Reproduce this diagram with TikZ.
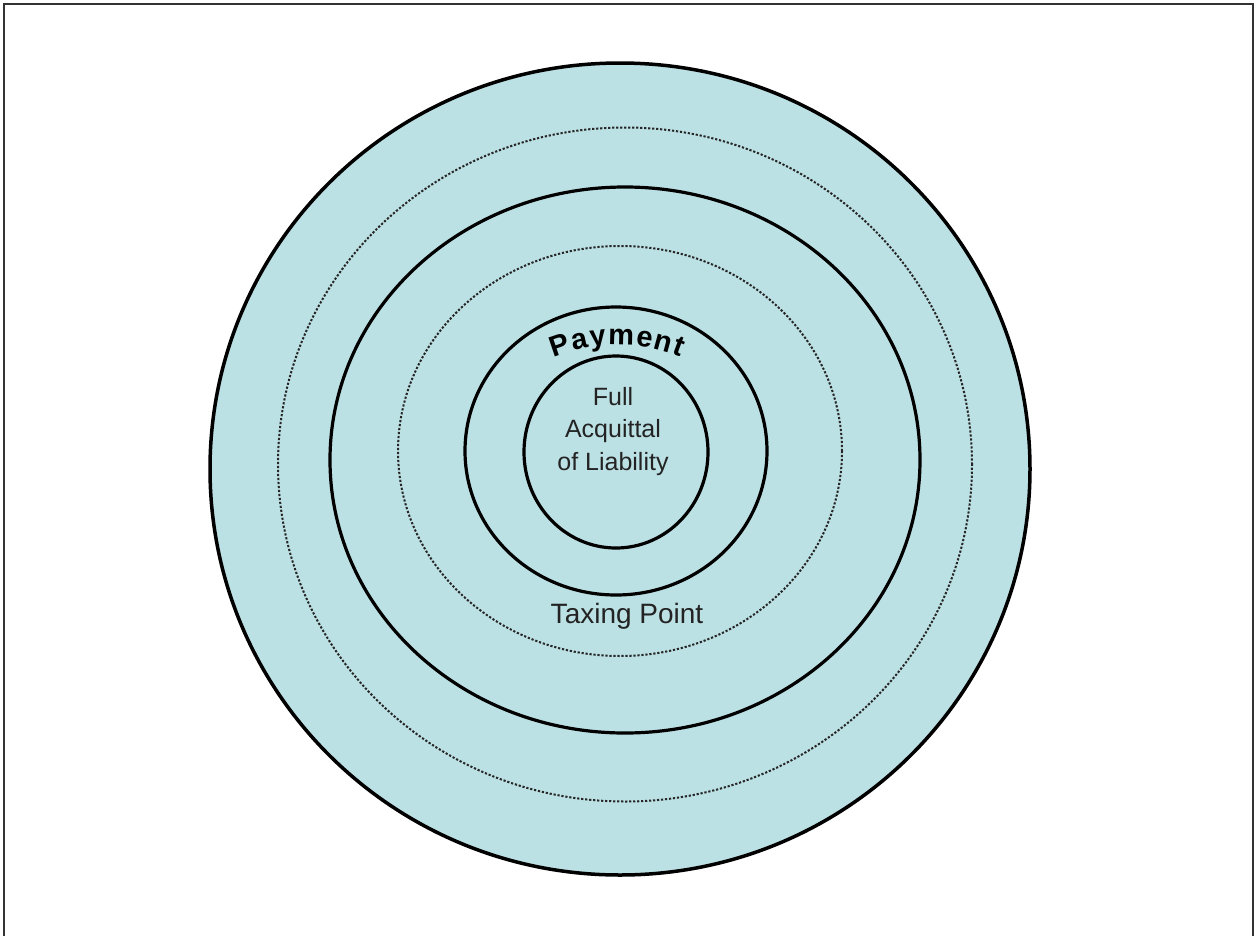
\documentclass[tikz,border=0pt]{standalone}
\usepackage{fontspec}
\setmainfont{Liberation Sans}
\usetikzlibrary{decorations.text}
\definecolor{ringfill}{RGB}{188,225,228}
\definecolor{txt}{RGB}{35,35,35}
\tikzset{
  solidring/.style={line width=3.2pt, draw=black},
  outerring/.style={line width=3.5pt, draw=black, fill=ringfill},
  dotring/.style={line width=2pt, draw=black!85, dash pattern=on 2.2pt off 1.8pt},
  frame/.style={line width=2pt, draw=black!80},
  label/.style={text=txt, inner sep=0pt}
}
\begin{document}
\begin{tikzpicture}[x=1pt,y=1pt]
\useasboundingbox (0,0) rectangle (1256,-935);
\draw[frame] (4,-940) -- (4,-4) -- (1253,-4) -- (1253,-940);
\draw[outerring] (620,-469) ellipse [x radius=410, y radius=406];
\draw[dotring] (625,-464.5) ellipse [x radius=347, y radius=337];
\draw[solidring] (625,-460) ellipse [x radius=295, y radius=273];
\draw[dotring] (620,-451) ellipse [x radius=222, y radius=205];
\draw[solidring] (616,-451) ellipse [x radius=151, y radius=144];
\draw[solidring] (616,-452) ellipse [x radius=92, y radius=96];
\node[label, align=center, font=\fontsize{25}{32.5}\selectfont, anchor=base] (core) at (613,-470)
  {Full\\Acquittal\\of Liability};
\node[label, font=\fontsize{28}{30}\selectfont, anchor=base] (taxing) at (627,-623) {Taxing Point};
\path[decorate, decoration={text along path, text align={fit to path},
  text={|\fontsize{29}{30}\selectfont\bfseries|Payment}}]
  (617,-514) ++(112:169) arc[start angle=112, end angle=68, radius=169];
\end{tikzpicture}
\end{document}
